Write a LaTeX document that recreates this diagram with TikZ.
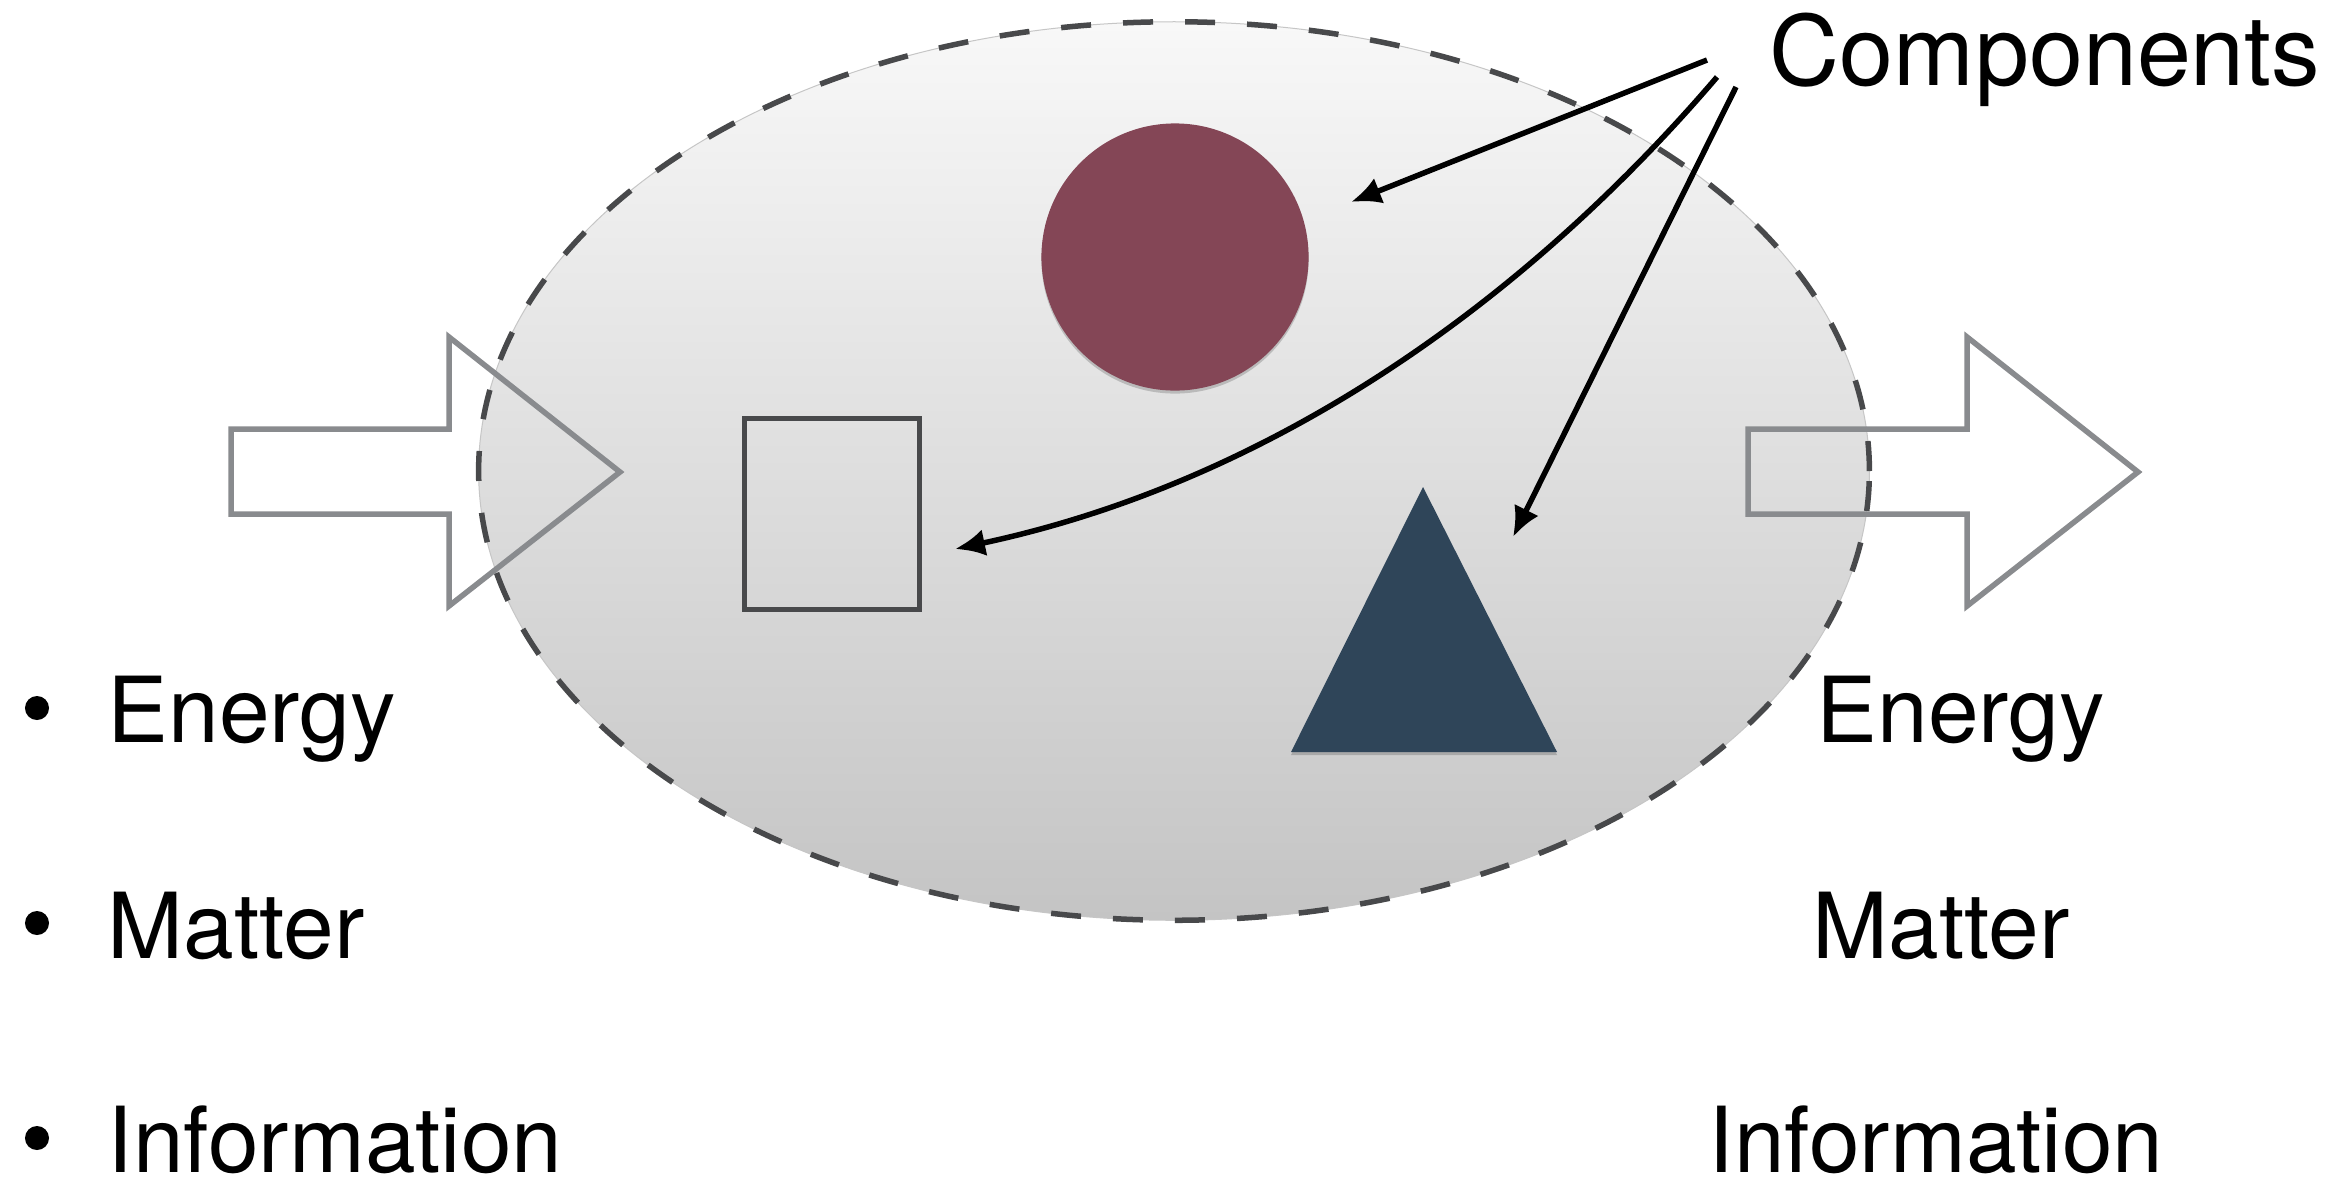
\documentclass[tikz,border=0pt]{standalone}
\usepackage{fontspec}
\setmainfont{TeX Gyre Heros}
\usetikzlibrary{arrows.meta,shadows,shapes.geometric}
\definecolor{circcol}{HTML}{844656}
\definecolor{tricol}{HTML}{2F4559}
\definecolor{sqcol}{HTML}{48494B}
\definecolor{blockcol}{HTML}{898B8E}
\definecolor{dashcol}{HTML}{48494B}
\definecolor{elltop}{HTML}{F8F8F8}
\definecolor{ellbot}{HTML}{C4C4C4}
\tikzset{
  lbl/.style={font=\fontsize{25.9pt}{30pt}\selectfont, inner sep=0pt, anchor=base west, text=black},
  complbl/.style={font=\fontsize{27.6pt}{32pt}\selectfont, inner sep=0pt, anchor=base west, text=black},
  bulletdot/.style={circle, fill=black, inner sep=0pt, minimum size=0.24cm},
  blockarrow/.style={draw=blockcol, line width=0.055cm, line join=miter},
  pointer/.style={draw=black, line width=0.055cm, -{Latex[length=0.30cm,width=0.27cm]}},
  softshadow/.style={drop shadow={shadow xshift=0cm, shadow yshift=-0.03cm, opacity=0.18, fill=black}}
}
\begin{document}
\begin{tikzpicture}[x=0.01cm,y=-0.01cm]
\useasboundingbox[fill=white] (0,0) rectangle (2349,1181);

% system boundary
\node[ellipse, inner sep=0pt, minimum width=13.90cm, minimum height=8.98cm,
      top color=elltop, bottom color=ellbot, draw=gray!45, line width=0.01cm] (sys) at (1174,471) {};
\node[ellipse, inner sep=0pt, minimum width=13.90cm, minimum height=8.98cm,
      draw=dashcol, line width=0.055cm, dash pattern=on 0.30cm off 0.32cm] (sysb) at (1174,471) {};

% block arrows
\draw[blockarrow] (231,429) -- (449,429) -- (449,337) -- (620,472) -- (449,606) -- (449,514) -- (231,514) -- cycle;
\draw[blockarrow] (1748,429) -- (1967,429) -- (1967,337) -- (2138,472) -- (1967,606) -- (1967,514) -- (1748,514) -- cycle;

% components
\node[circle, fill=circcol, inner sep=0pt, minimum size=2.67cm, softshadow] (circ) at (1175,257) {};
\node[draw=sqcol, line width=0.055cm, inner sep=0pt, minimum width=1.75cm, minimum height=1.91cm] (sq) at (832,514) {};
\fill[tricol, softshadow] (1423,487) -- (1557,752) -- (1291,752) -- cycle;
\coordinate (tri) at (1423,664);

% label
\node[complbl] (comp) at (1769,85) {Components};
\coordinate (s1) at (1707,60);
\coordinate (s2) at (1717,77);
\coordinate (s3) at (1736,87);
\coordinate (e1) at (1351,202);
\coordinate (e2) at (955,549);
\coordinate (e3) at (1513,537);

\draw[pointer] (s1) -- (e1);
\draw[pointer] (s2) .. controls (1522,305) and (1269,482) .. (e2);
\draw[pointer] (s3) -- (e3);

% inputs
\node[bulletdot] (b1) at (37,708) {};
\node[bulletdot] (b2) at (37,923) {};
\node[bulletdot] (b3) at (37,1138) {};
\node[lbl] (inE) at (107,742) {Energy};
\node[lbl] (inM) at (107,958) {Matter};
\node[lbl] (inI) at (107,1172) {Information};

% outputs
\node[lbl] (outE) at (1816,742) {Energy};
\node[lbl] (outM) at (1812,958) {Matter};
\node[lbl] (outI) at (1708,1172) {Information};
\end{tikzpicture}
\end{document}
